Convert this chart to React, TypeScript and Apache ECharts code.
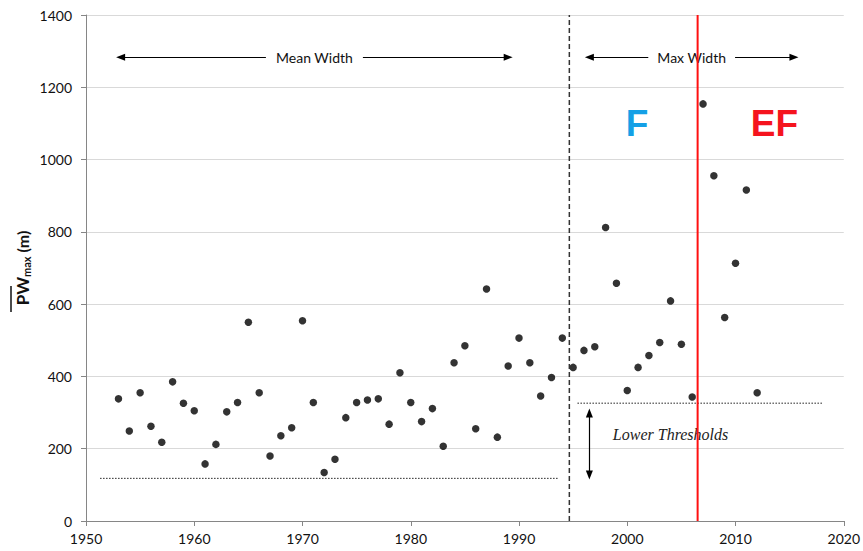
import { useEffect, useRef } from 'react';
import * as echarts from 'echarts';

// yearly values of mean / max path width (m)
const years = [
  1953, 1954, 1955, 1956, 1957, 1958, 1959, 1960, 1961, 1962,
  1963, 1964, 1965, 1966, 1967, 1968, 1969, 1970, 1971, 1972,
  1973, 1974, 1975, 1976, 1977, 1978, 1979, 1980, 1981, 1982,
  1983, 1984, 1985, 1986, 1987, 1988, 1989, 1990, 1991, 1992,
  1993, 1994, 1995, 1996, 1997, 1998, 1999, 2000, 2001, 2002,
  2003, 2004, 2005, 2006, 2007, 2008, 2009, 2010, 2011, 2012,
];
const pwValues = [
  338, 249, 355, 262, 218, 385, 326, 305, 158, 212,
  302, 328, 550, 355, 180, 236, 258, 554, 328, 134,
  171, 286, 328, 335, 338, 268, 410, 328, 275, 311,
  207, 438, 485, 255, 642, 232, 429, 506, 438, 346,
  397, 506, 425, 472, 482, 812, 658, 361, 425, 458,
  494, 609, 489, 343, 1154, 955, 563, 713, 916, 355,
];

// lower thresholds: [startYear, endYear, value]
const meanThreshold = [1951.3, 1993.6, 118];
const maxThreshold = [1995.4, 2018.0, 326];

// divider lines (year)
const methodChangeYear = 1994.65;
const efChangeYear = 2006.5;

// annotation arrows: [x1, y1, x2, y2]
const meanWidthArrow = [1953.2, 1283, 1989.0, 1283];
const maxWidthArrow = [1996.5, 1283, 2015.4, 1283];
const thresholdArrow = [1996.5, 127, 1996.5, 299];

// annotation texts: [x, y]
const fLabelPos = [2000.9, 1101];
const efLabelPos = [2013.6, 1101];
const thresholdLabelPos = [2004.0, 238];

const xTicks = { min: 1950, max: 2020, interval: 10 };
const yTicks = { min: 0, max: 1400, interval: 200 };

const FONT = 'Lato, "Open Sans", sans-serif';

export default function App() {
  const chartRef = useRef<HTMLDivElement>(null);

  useEffect(() => {
    if (!chartRef.current) return;
    const chart = echarts.init(chartRef.current, null, { renderer: 'svg' });

    const arrowLabel = (text: string, pad: number) => ({
      show: true,
      formatter: text,
      position: 'middle',
      distance: 0,
      verticalAlign: 'middle',
      backgroundColor: '#fff',
      padding: [2, pad],
      color: '#111',
      fontSize: 14,
      fontFamily: FONT,
    });

    const thresholdStyle = { color: '#222', width: 1, type: [1.5, 1.5] };

    chart.setOption({
      animation: false,
      backgroundColor: '#fff',
      grid: { left: 86, right: 14, top: 15, bottom: 30 },
      xAxis: {
        type: 'value',
        ...xTicks,
        splitLine: { show: false },
        axisLine: { lineStyle: { color: '#868686' } },
        axisTick: { length: 5, lineStyle: { color: '#868686' } },
        axisLabel: { color: '#111', fontSize: 14, fontFamily: FONT, margin: 10, formatter: (v: number) => String(v) },
      },
      yAxis: {
        type: 'value',
        ...yTicks,
        name: '{pw|PW}{sub|max}{u| (m)}',
        nameLocation: 'middle',
        nameMoveOverlap: false,
        nameGap: 54,
        nameTextStyle: {
          rich: {
            pw: { fontSize: 17, fontWeight: 'bold', fontFamily: FONT, color: '#111', lineHeight: 20 },
            sub: { fontSize: 11, fontWeight: 'bold', fontFamily: FONT, color: '#111', verticalAlign: 'bottom', lineHeight: 20 },
            u: { fontSize: 16, fontWeight: 'bold', fontFamily: FONT, color: '#111', lineHeight: 20 },
          },
        },
        axisLine: { show: true, lineStyle: { color: '#868686' } },
        axisTick: { show: true, length: 5, lineStyle: { color: '#868686' } },
        splitLine: { lineStyle: { color: '#d9d9d9' } },
        axisLabel: { color: '#111', fontSize: 14, fontFamily: FONT, margin: 14, formatter: (v: number) => String(v) },
      },
      graphic: [
        // overline over "PW" in the axis name
        { type: 'line', shape: { x1: 11, y1: 286, x2: 11, y2: 312 }, style: { stroke: '#111', lineWidth: 1.5 } },
      ],
      series: [
        {
          type: 'line',
          data: [[meanThreshold[0], meanThreshold[2]], [meanThreshold[1], meanThreshold[2]]],
          symbol: 'none',
          lineStyle: thresholdStyle,
          silent: true,
        },
        {
          type: 'line',
          data: [[maxThreshold[0], maxThreshold[2]], [maxThreshold[1], maxThreshold[2]]],
          symbol: 'none',
          lineStyle: thresholdStyle,
          silent: true,
        },
        {
          type: 'line',
          data: [[methodChangeYear, yTicks.min], [methodChangeYear, yTicks.max]],
          symbol: 'none',
          lineStyle: { color: '#333', width: 1.5, type: [5, 3] },
          silent: true,
        },
        {
          type: 'scatter',
          data: years.map((y, i) => [y, pwValues[i]]),
          symbolSize: 7.5,
          itemStyle: { color: '#000' },
          markLine: {
            silent: true,
            symbol: ['triangle', 'triangle'],
            symbolSize: [7, 9],
            lineStyle: { color: '#000', width: 1.2, type: 'solid' },
            label: { show: false },
            data: [
              [
                { coord: [meanWidthArrow[0], meanWidthArrow[1]], label: arrowLabel('Mean Width', 10) },
                { coord: [meanWidthArrow[2], meanWidthArrow[3]] },
              ],
              [
                { coord: [maxWidthArrow[0], maxWidthArrow[1]], label: arrowLabel('Max Width', 9) },
                { coord: [maxWidthArrow[2], maxWidthArrow[3]] },
              ],
              [
                { coord: [thresholdArrow[0], thresholdArrow[1]] },
                { coord: [thresholdArrow[2], thresholdArrow[3]] },
              ],
            ],
          },
          markPoint: {
            silent: true,
            symbol: 'rect',
            symbolSize: 1,
            itemStyle: { color: 'transparent' },
            data: [
              {
                coord: fLabelPos,
                label: { show: true, position: 'inside', formatter: 'F', color: '#14a0e6', fontSize: 37, fontWeight: 'bold', fontFamily: '"Liberation Sans", Arial, sans-serif' },
              },
              {
                coord: efLabelPos,
                label: { show: true, position: 'inside', formatter: 'EF', color: '#f5141e', fontSize: 37, fontWeight: 'bold', fontFamily: '"Liberation Sans", Arial, sans-serif' },
              },
              {
                coord: thresholdLabelPos,
                label: { show: true, position: 'inside', formatter: 'Lower Thresholds', color: '#222', fontSize: 16, fontStyle: 'italic', fontFamily: '"Liberation Serif", "Times New Roman", serif' },
              },
            ],
          },
        },
        {
          type: 'line',
          z: 5,
          data: [[efChangeYear, yTicks.min], [efChangeYear, yTicks.max]],
          symbol: 'none',
          lineStyle: { color: '#ff1010', width: 2 },
          silent: true,
        },
      ],
    });

    return () => chart.dispose();
  }, []);

  return (
    <div
      ref={chartRef}
      style={{ position: 'fixed', left: 0, top: 0, width: 863, height: 551 }}
    />
  );
}
